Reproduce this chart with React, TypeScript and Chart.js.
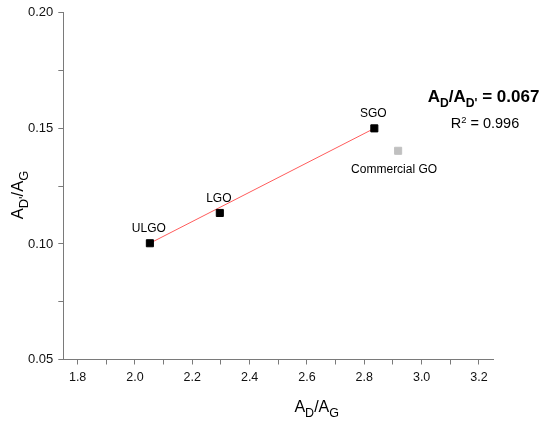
import { useEffect, useRef } from "react";
import { Chart, registerables } from "chart.js";

Chart.register(...registerables);

// ---- data ----
const sampleNames = ["ULGO", "LGO", "SGO"];
const sampleX = [2.052, 2.296, 2.835];
const sampleY = [0.1003, 0.1134, 0.15];
const commercialNames = ["Commercial GO"];
const commercialX = [2.918];
const commercialY = [0.1403];
const fitX = [2.052, 2.835];
const fitY = [0.1003, 0.15];
const xMajorTicks = [1.8, 2.0, 2.2, 2.4, 2.6, 2.8, 3.0, 3.2];
const xMinorTicks = [1.9, 2.1, 2.3, 2.5, 2.7, 2.9, 3.1];
const yMajorTicks = [0.05, 0.1, 0.15, 0.2];
const yMinorTicks = [0.075, 0.125, 0.175];
const slopeText = "0.067";
const r2Text = "0.996";

const FONT = "'Liberation Sans', Arial, sans-serif";
const AXIS_COLOR = "#7a7a7a";

type Run = [string, "n" | "sub" | "sup"];

function drawRuns(
  ctx: CanvasRenderingContext2D,
  runs: Run[],
  x: number,
  y: number,
  size: number,
  weight: string,
  align: "left" | "center",
  subScale = 0.72
) {
  const fontFor = (k: string) =>
    `${weight} ${k === "n" ? size : Math.round(size * subScale * 10) / 10}px ${FONT}`;
  let total = 0;
  const widths = runs.map(([t, k]) => {
    ctx.font = fontFor(k);
    const w = ctx.measureText(t).width;
    total += w;
    return w;
  });
  let cx = align === "center" ? x - total / 2 : x;
  ctx.textAlign = "left";
  ctx.textBaseline = "alphabetic";
  runs.forEach(([t, k], i) => {
    ctx.font = fontFor(k);
    let dy = 0;
    if (k === "sub") dy = size * 0.3;
    if (k === "sup") dy = -size * 0.38;
    ctx.fillText(t, cx, y + dy);
    cx += widths[i];
  });
}

const isIn = (arr: number[], v: number) => arr.some((t) => Math.abs(t - v) < 1e-9);

const labelsPlugin = {
  id: "labelsPlugin",
  afterDatasetsDraw(chart: any) {
    const ctx: CanvasRenderingContext2D = chart.ctx;
    ctx.save();
    ctx.fillStyle = "#000";
    // point labels
    ctx.font = `12px ${FONT}`;
    ctx.textAlign = "center";
    ctx.textBaseline = "alphabetic";
    const m1 = chart.getDatasetMeta(1);
    m1.data.forEach((pt: any, i: number) => {
      ctx.fillText(sampleNames[i], pt.x - 1, pt.y - 11);
    });
    const m2 = chart.getDatasetMeta(2);
    m2.data.forEach((pt: any, i: number) => {
      ctx.fillText(commercialNames[i], pt.x - 4, pt.y + 22.5);
    });

    // axis titles
    drawRuns(ctx, [["A", "n"], ["D", "sub"], ["/", "n"], ["A", "n"], ["G", "sub"]], 316.7, 411.7, 16, "normal", "center", 0.78);
    ctx.save();
    ctx.translate(23.3, 195);
    ctx.rotate(-Math.PI / 2);
    drawRuns(ctx, [["A", "n"], ["D'", "sub"], ["/", "n"], ["A", "n"], ["G", "sub"]], 0, 0, 16.5, "normal", "center", 0.78);
    ctx.restore();

    // annotation
    drawRuns(ctx, [["A", "n"], ["D", "sub"], ["/", "n"], ["A", "n"], ["D'", "sub"], [" = " + slopeText, "n"]], 427.7, 101.7, 17, "bold", "left", 0.72);
    drawRuns(ctx, [["R", "n"], ["2", "sup"], [" = " + r2Text, "n"]], 450.7, 128.3, 14.5, "normal", "left", 0.65);
    ctx.restore();
  },
};

export default function App() {
  const ref = useRef<HTMLCanvasElement | null>(null);

  useEffect(() => {
    if (!ref.current) return;
    const chart = new Chart(ref.current, {
      type: "scatter",
      data: {
        datasets: [
          {
            type: "line",
            label: "fit",
            data: fitX.map((x, i) => ({ x, y: fitY[i] })),
            borderColor: "#ff5c5c",
            borderWidth: 1,
            pointRadius: 0,
            fill: false,
            order: 3,
          } as any,
          {
            label: "samples",
            data: sampleX.map((x, i) => ({ x, y: sampleY[i] })),
            pointStyle: "rect",
            pointRadius: 5,
            backgroundColor: "#000",
            borderColor: "#000",
            borderWidth: 1,
            order: 1,
          },
          {
            label: "commercial",
            data: commercialX.map((x, i) => ({ x, y: commercialY[i] })),
            pointStyle: "rect",
            pointRadius: 5,
            backgroundColor: "#c0c0c0",
            borderColor: "#c0c0c0",
            borderWidth: 1,
            order: 2,
          },
        ],
      },
      options: {
        animation: false,
        responsive: false,
        devicePixelRatio: 1,
        layout: { padding: { top: 12.7, right: 56.7, left: 0, bottom: 0 } },
        plugins: { legend: { display: false }, tooltip: { enabled: false } },
        scales: {
          x: {
            type: "linear",
            min: 1.75,
            max: 3.25,
            afterBuildTicks: (scale: any) => {
              scale.ticks = [...xMajorTicks, ...xMinorTicks]
                .sort((a, b) => a - b)
                .map((v) => ({ value: v }));
            },
            afterFit: (scale: any) => {
              scale.height = 65.5;
            },
            ticks: {
              autoSkip: false,
              maxRotation: 0,
              padding: 6,
              color: "#111",
              font: { family: FONT, size: 12.5 },
              callback: (v: any) => (isIn(xMajorTicks, Number(v)) ? Number(v).toFixed(1) : ""),
            },
            grid: { drawOnChartArea: false, drawTicks: true, tickLength: 5, color: AXIS_COLOR },
            border: { color: AXIS_COLOR, width: 1 },
          },
          y: {
            type: "linear",
            min: 0.05,
            max: 0.2,
            afterBuildTicks: (scale: any) => {
              scale.ticks = [...yMajorTicks, ...yMinorTicks]
                .sort((a, b) => a - b)
                .map((v) => ({ value: v }));
            },
            afterFit: (scale: any) => {
              scale.width = 63.3;
            },
            ticks: {
              autoSkip: false,
              padding: 5,
              color: "#111",
              font: { family: FONT, size: 13 },
              callback: (v: any) => (isIn(yMajorTicks, Number(v)) ? Number(v).toFixed(2) : ""),
            },
            grid: { drawOnChartArea: false, drawTicks: true, tickLength: 5, color: AXIS_COLOR },
            border: { color: AXIS_COLOR, width: 1 },
          },
        },
      },
      plugins: [labelsPlugin],
    });
    return () => chart.destroy();
  }, []);

  return (
    <div style={{ position: "fixed", left: 0, top: 0, width: 550, height: 425, background: "#fff" }}>
      <canvas ref={ref} width={550} height={425} style={{ width: 550, height: 425, display: "block" }} />
    </div>
  );
}
